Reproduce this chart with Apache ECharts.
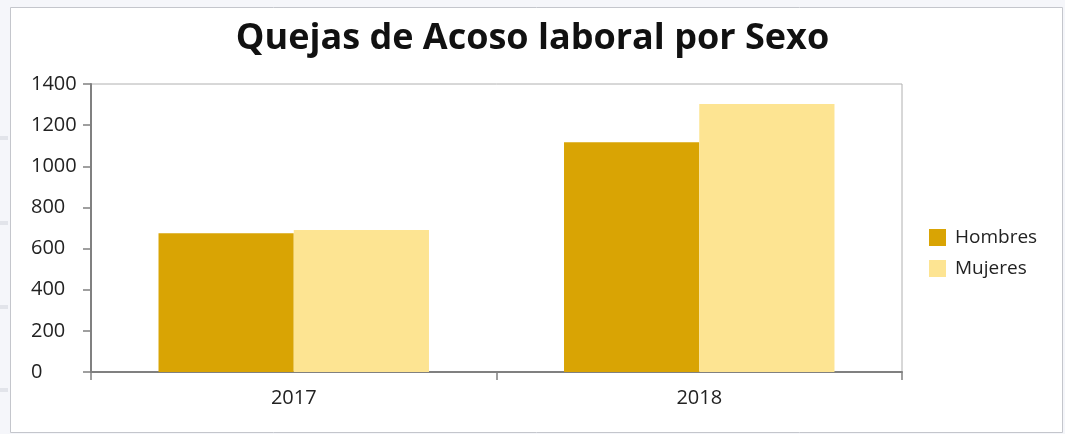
<!DOCTYPE html>
<html>
<head>
<meta charset="utf-8">
<script src="https://cdn.jsdelivr.net/npm/echarts@6/dist/echarts.min.js"></script>
<style>
html,body{margin:0;padding:0;background:#f5f6fa;}
#c{width:1065px;height:434px;}
</style>
</head>
<body>
<div id="c"></div>
<script>
const titleText = 'Quejas de Acoso laboral por Sexo';
const categories = ['2017', '2018'];
const seriesNames = ['Hombres', 'Mujeres'];
const hombres = [674, 1117];
const mujeres = [690, 1303];
const yTicks = { min: 0, max: 1400, interval: 200 };

const FONT = '"Open Sans", "Noto Sans", sans-serif';
const chart = echarts.init(document.getElementById('c'), null, { renderer: 'canvas' });
chart.setOption({
  backgroundColor: '#f5f6fa',
  animation: false,
  graphic: [
    { type: 'rect', z: -10, shape: { x: 10.5, y: 7.5, width: 1052, height: 425 }, style: { fill: '#ffffff', stroke: '#c4c6cc', lineWidth: 1 } },
    { type: 'rect', z: -10, shape: { x: 0, y: 136, width: 8, height: 4 }, style: { fill: '#e2e4ea' } },
    { type: 'rect', z: -10, shape: { x: 0, y: 221, width: 8, height: 4 }, style: { fill: '#e2e4ea' } },
    { type: 'rect', z: -10, shape: { x: 0, y: 305, width: 8, height: 4 }, style: { fill: '#e2e4ea' } },
    { type: 'rect', z: -10, shape: { x: 0, y: 388, width: 8, height: 4 }, style: { fill: '#e2e4ea' } }
  ],
  title: {
    text: titleText,
    left: 'center',
    top: 16,
    textStyle: { fontFamily: FONT, fontWeight: 'bold', fontSize: 36, color: '#111' }
  },
  legend: {
    data: seriesNames,
    orient: 'vertical',
    left: 924,
    top: 223,
    itemWidth: 17,
    itemHeight: 17,
    itemGap: 12,
    icon: 'rect',
    textStyle: { fontFamily: FONT, fontSize: 19, color: '#222', padding: [0, 0, 0, 4] }
  },
  grid: {
    left: 91, right: 163, top: 84, bottom: 62,
    show: true, borderColor: '#b0b0b0', borderWidth: 1, backgroundColor: 'transparent'
  },
  xAxis: {
    type: 'category',
    data: categories,
    axisLine: { lineStyle: { color: '#808080', width: 2 } },
    axisTick: { show: true, length: 8, lineStyle: { color: '#808080', width: 1.5 } },
    axisLabel: { fontFamily: FONT, fontSize: 20, color: '#222', margin: 16 }
  },
  yAxis: {
    type: 'value',
    min: yTicks.min, max: yTicks.max, interval: yTicks.interval,
    splitLine: { show: false },
    axisLine: { show: true, lineStyle: { color: '#808080', width: 2 } },
    axisTick: { show: true, length: 8, lineStyle: { color: '#808080', width: 1.5 } },
    axisLabel: { fontFamily: FONT, fontSize: 20, color: '#222', align: 'left', margin: 60, formatter: v => String(v) }
  },
  series: [
    { name: seriesNames[0], type: 'bar', data: hombres, itemStyle: { color: '#d9a404' }, barGap: '0%', barCategoryGap: '33.3%' },
    { name: seriesNames[1], type: 'bar', data: mujeres, itemStyle: { color: '#fde492' } }
  ]
});
</script>
</body>
</html>
